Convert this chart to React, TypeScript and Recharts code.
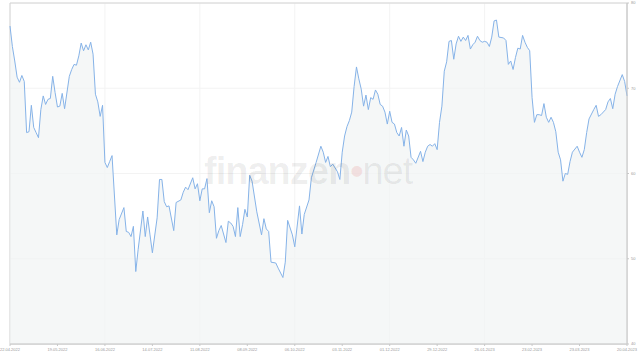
import React from "react";
import {
  ComposedChart,
  Area,
  XAxis,
  YAxis,
  CartesianGrid,
  ReferenceArea,
} from "recharts";

// trading day index (0 = 22.04.2022) and closing price
const tradingDays = [
  0, 1, 2, 3, 4, 5, 6, 7, 8, 9, 10, 11, 12, 13, 14, 15, 16, 17, 18, 19, 20, 21, 22, 23, 25, 26, 27, 28, 29, 30, 31, 32,
  33, 34, 35, 36, 37, 38, 39, 40, 41, 42, 43,
  45, 46, 48, 49, 50, 51, 52, 53, 54, 56, 57, 58, 59, 60, 62, 63, 64, 65, 66, 67, 69, 70, 72, 73, 74, 75, 77, 78, 79,
  80, 81, 82, 83, 84, 85, 86, 87, 88, 89, 91, 92, 93, 94, 95, 96, 97, 98, 99, 100, 101, 102, 104, 106, 107, 108, 109,
  110, 112, 113, 115, 116, 117, 119, 120, 122, 123, 124, 126, 127,
  129, 131, 132, 133, 134, 135, 136, 138, 139, 140, 141, 142, 143, 144, 145, 146, 147, 148, 149, 150, 151, 152, 153,
  154, 155, 156, 157, 158, 159, 160, 161, 162, 163, 164, 165, 166, 167, 168, 169, 170, 171, 173,
  174, 175, 176, 177, 178, 179, 180, 181, 182, 183, 184, 185, 186, 187, 188, 189, 190, 191, 192, 193, 194, 195, 196,
  197, 198, 199, 200, 201, 202, 203, 204, 205, 206, 208, 209, 210, 211, 212, 213, 214, 215, 216, 217, 218, 219, 220,
  221, 222, 223, 224, 225, 226, 227, 228, 229, 230, 231, 232, 233, 234, 235, 236, 237, 239, 240, 241, 242, 243, 244,
  246, 247, 248, 249, 251, 252, 253, 254, 255, 256, 258, 259, 260,
];

const prices = [
  77.3, 74.9, 73.2, 71.3, 70.7, 71.5, 70.8, 64.8, 64.9, 68.0, 65.4, 64.8, 64.2, 67.5, 69.1, 68.1, 68.7, 68.8, 71.4,
  69.5, 67.8, 67.9, 69.4, 67.6, 71.4, 72.2, 72.8, 72.7, 73.8, 75.3, 74.4, 75.1, 74.5, 75.4, 74.0, 69.3, 68.4, 66.7,
  68.0, 61.3, 60.7, 61.4, 62.1,
  52.8, 54.6, 56.0, 53.2, 53.1, 52.6, 53.8, 48.5, 51.1, 55.6, 52.6, 54.9, 52.8, 50.7, 54.8, 59.3, 59.3, 56.7, 56.1,
  56.2, 53.3, 56.6, 56.9, 57.8, 58.4, 58.1, 59.5, 58.2, 58.8, 56.8, 58.2, 58.2, 59.4, 55.4, 56.8, 56.1, 52.4, 53.3,
  53.9, 51.9, 54.4, 54.2, 53.8, 52.6, 56.0, 52.6, 54.0, 55.8, 54.9, 59.8, 59.1, 55.5, 52.8, 54.7, 53.5, 53.2, 49.6,
  49.5, 48.9, 47.8, 49.6, 54.5, 52.8, 51.4, 56.2, 52.9, 55.2, 56.9, 59.5,
  61.3, 63.2, 62.5, 61.3, 62.0, 60.8, 61.1, 60.2, 59.3, 62.5, 64.4, 65.5, 66.2, 67.2, 70.2, 72.5, 71.1, 69.9, 67.9,
  69.2, 67.5, 68.9, 68.7, 69.8, 69.3, 68.1, 67.9, 67.2, 65.8, 67.3, 66.0, 65.8, 64.8, 64.4, 65.4, 63.2, 65.1, 64.4,
  61.9, 61.6, 61.2, 62.6,
  61.4, 62.5, 63.2, 63.4, 63.2, 63.5, 62.8, 66.0, 67.9, 72.0, 73.1, 75.5, 75.6, 73.4, 75.2, 76.1, 75.5, 76.0, 75.6,
  76.2, 74.6, 75.1, 75.4, 76.1, 75.6, 75.4, 75.5, 75.4, 74.9, 76.0, 77.9, 78.0, 76.0, 75.9, 75.6, 72.8, 73.2, 72.2,
  73.6, 74.7, 74.6, 76.2, 75.4, 74.8, 74.4, 68.9, 66.0, 66.9, 66.9, 66.8, 68.2, 66.6, 66.0, 66.6, 66.0, 64.9, 62.5,
  61.6, 59.1, 60.0, 59.9, 61.4, 62.5, 63.2, 62.5, 61.9, 62.8, 64.8, 66.4, 67.5, 68.0, 66.7, 66.9, 67.5, 68.4, 68.8,
  67.6, 69.3, 70.2, 71.6, 70.8, 69.1,
];

const dateTicks = [0, 20, 40, 60, 80, 100, 120, 140, 160, 180, 200, 220, 240, 260];
const dateLabels = [
  "22.04.2022",
  "19.05.2022",
  "16.06.2022",
  "14.07.2022",
  "11.08.2022",
  "08.09.2022",
  "06.10.2022",
  "03.11.2022",
  "01.12.2022",
  "29.12.2022",
  "26.01.2023",
  "23.02.2023",
  "23.03.2023",
  "20.04.2023",
];
const priceTicks = [40, 50, 60, 70, 80];

const data = tradingDays.map((d, i) => ({ day: d, price: prices[i] }));

function App() {
  return (
    <div style={{ position: "fixed", left: 0, top: 0, width: 640, height: 360, background: "#fff" }}>
      <ComposedChart width={640} height={360} data={data} margin={{ top: 3, right: 0, left: 10, bottom: 0 }}>
        <CartesianGrid stroke="#f3f3f3" strokeWidth={1} />
        <XAxis
          dataKey="day"
          type="number"
          domain={[0, 260]}
          ticks={dateTicks}
          tickFormatter={(v: number) => dateLabels[dateTicks.indexOf(v)]}
          height={16}
          tickSize={2}
          stroke="#c8c8c8"
          tick={{ fontSize: 4, fill: "#9a9a9a", fontFamily: "Liberation Sans" }}
        />
        <YAxis
          orientation="right"
          type="number"
          domain={[40, 80]}
          ticks={priceTicks}
          width={13}
          tickSize={2}
          stroke="#c8c8c8"
          tick={{ fontSize: 4, fill: "#9a9a9a", fontFamily: "Liberation Sans" }}
        />
        <ReferenceArea x1={0} x2={260} y1={40} y2={80} fill="none" stroke="#d4d4d4" strokeWidth={1} />
        <Area
          type="linear"
          dataKey="price"
          stroke="#86b3e8"
          strokeWidth={1}
          fill="#f1f3f4"
          fillOpacity={0.7}
          dot={false}
          activeDot={false}
          isAnimationActive={false}
        />
      </ComposedChart>
      <div
        style={{
          position: "absolute",
          left: 204,
          top: 150,
          fontFamily: "Liberation Sans",
          fontSize: 38,
          fontWeight: "bold",
          letterSpacing: -1,
          color: "rgba(0,0,0,0.07)",
          pointerEvents: "none",
          whiteSpace: "nowrap",
        }}
      >
        finanzen
        <span style={{ color: "rgba(220,60,60,0.12)" }}>•</span>
        <span style={{ fontWeight: "normal" }}>net</span>
      </div>
    </div>
  );
}

export default App;
